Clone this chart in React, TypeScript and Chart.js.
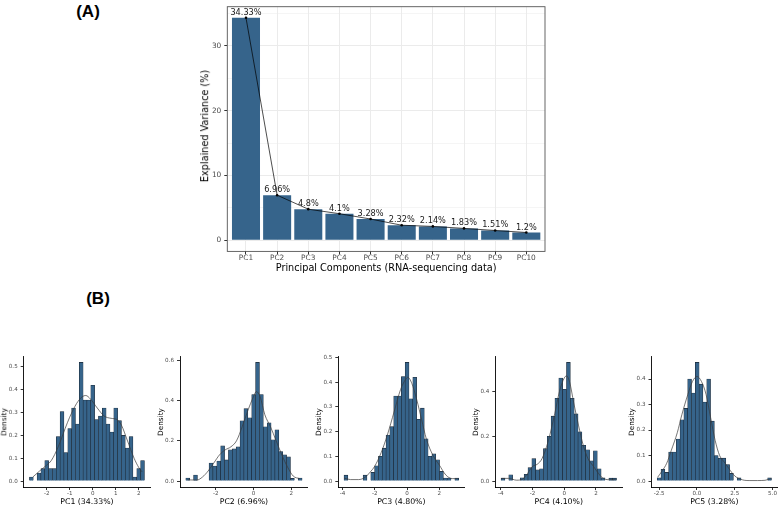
import React, { useEffect, useRef } from "react";
import { Chart, registerables } from "chart.js";

Chart.register(...registerables);

const FONT = "'DejaVu Sans', 'Noto Sans', sans-serif";
const LABEL_FONT = "'Liberation Sans', Arial, sans-serif";
const BAR_FILL = "#36648B";
const BAR_EDGE = "#1b2836";
const TICK_TEXT = "#4d4d4d";

// ---------------- Panel A data ----------------
const pcLabels = ["PC1", "PC2", "PC3", "PC4", "PC5", "PC6", "PC7", "PC8", "PC9", "PC10"];
const explainedVariance = [34.33, 6.96, 4.8, 4.1, 3.28, 2.32, 2.14, 1.83, 1.51, 1.2];
const varianceTicks = [0, 5, 10, 15, 20, 25, 30, 35];
const varianceTickLabels = ["0", "", "10", "", "20", "", "30", ""];

// ---------------- Panel B data ----------------
const pc1Bins = [-2.75, 2.25];
const pc1Density = [0.018, 0, 0.035, 0.055, 0.09, 0.055, 0.055, 0.195, 0.305, 0.125, 0.23, 0.32, 0.25, 0.52, 0.355, 0.355, 0.42, 0.27, 0.285, 0.32, 0.25, 0.215, 0.32, 0.265, 0.2, 0.145, 0.195, 0.018, 0.055, 0.09];
const pc1CurveX = [-2.6, -2.3, -2.0, -1.8, -1.5, -1.2, -1.0, -0.7, -0.45, -0.3, -0.1, 0.2, 0.5, 0.8, 1.05, 1.25, 1.5, 1.8, 2.0, 2.15];
const pc1CurveY = [0.018, 0.045, 0.07, 0.09, 0.15, 0.23, 0.28, 0.34, 0.37, 0.375, 0.36, 0.32, 0.285, 0.275, 0.27, 0.245, 0.18, 0.1, 0.06, 0.04];
const pc1XTicks = [-2, -1, 0, 1, 2];
const pc1XTickLabels = ["-2", "-1", "0", "1", "2"];
const pc1YTicks = [0, 0.1, 0.2, 0.3, 0.4, 0.5];
const pc1YTickLabels = ["0.0", "0.1", "0.2", "0.3", "0.4", "0.5"];

const pc2Bins = [-3.58, 2.57];
const pc2Density = [0.015, 0, 0.03, 0, 0, 0, 0.09, 0.075, 0.1, 0.175, 0.105, 0.155, 0.16, 0.17, 0.3, 0.36, 0.315, 0.43, 0.59, 0.43, 0.27, 0.29, 0.205, 0.255, 0.147, 0.13, 0.12, 0.013, 0, 0.015];
const pc2CurveX = [-3.5, -3.0, -2.7, -2.4, -2.1, -1.8, -1.5, -1.2, -0.9, -0.6, -0.3, 0.0, 0.15, 0.35, 0.6, 0.9, 1.2, 1.5, 1.8, 2.1, 2.45];
const pc2CurveY = [0.006, 0.005, 0.02, 0.05, 0.09, 0.13, 0.155, 0.17, 0.2, 0.27, 0.35, 0.42, 0.445, 0.42, 0.33, 0.27, 0.2, 0.13, 0.07, 0.025, 0.012];
const pc2XTicks = [-2, 0, 2];
const pc2XTickLabels = ["-2", "0", "2"];
const pc2YTicks = [0, 0.2, 0.4, 0.6];
const pc2YTickLabels = ["0.0", "0.2", "0.4", "0.6"];

const pc3Bins = [-3.9, 3.2];
const pc3Density = [0.024, 0, 0, 0, 0, 0.024, 0, 0.035, 0.062, 0.1, 0.133, 0.186, 0.22, 0.344, 0.344, 0.423, 0.48, 0.333, 0.42, 0.25, 0.295, 0.171, 0.1, 0.11, 0.086, 0.039, 0.012, 0.012, 0, 0.012];
const pc3CurveX = [-3.9, -3.5, -3.0, -2.6, -2.3, -2.0, -1.6, -1.2, -0.8, -0.4, -0.1, 0.05, 0.3, 0.6, 0.9, 1.2, 1.6, 2.0, 2.4, 2.8, 3.15];
const pc3CurveY = [0.012, 0.006, 0.006, 0.015, 0.035, 0.06, 0.115, 0.19, 0.28, 0.37, 0.41, 0.42, 0.395, 0.33, 0.25, 0.17, 0.105, 0.065, 0.025, 0.01, 0.01];
const pc3XTicks = [-4, -2, 0, 2];
const pc3XTickLabels = ["-4", "-2", "0", "2"];
const pc3YTicks = [0, 0.1, 0.2, 0.3, 0.4, 0.5];
const pc3YTickLabels = ["0.0", "0.1", "0.2", "0.3", "0.4", "0.5"];

const pc4Bins = [-3.98, 3.3];
const pc4Density = [0.013, 0, 0.028, 0, 0, 0.015, 0.03, 0.06, 0.1, 0.05, 0.055, 0.145, 0.2, 0.29, 0.37, 0.46, 0.41, 0.53, 0.37, 0.3, 0.22, 0.16, 0.14, 0.09, 0.135, 0.055, 0.015, 0, 0.013, 0.013];
const pc4CurveX = [-3.95, -3.5, -3.0, -2.6, -2.3, -2.0, -1.7, -1.4, -1.0, -0.6, -0.3, 0.0, 0.15, 0.35, 0.6, 0.9, 1.2, 1.5, 1.8, 2.1, 2.4, 2.8, 3.25];
const pc4CurveY = [0.012, 0.012, 0.004, 0.01, 0.035, 0.065, 0.075, 0.1, 0.18, 0.3, 0.4, 0.46, 0.47, 0.44, 0.35, 0.25, 0.16, 0.1, 0.07, 0.04, 0.015, 0.006, 0.006];
const pc4XTicks = [-4, -2, 0, 2];
const pc4XTickLabels = ["-4", "-2", "0", "2"];
const pc4YTicks = [0, 0.2, 0.4];
const pc4YTickLabels = ["0.0", "0.2", "0.4"];

const pc5Bins = [-2.63, 4.93];
const pc5Density = [0.013, 0.046, 0.034, 0.114, 0.114, 0.165, 0.24, 0.285, 0.4, 0.345, 0.465, 0.38, 0.31, 0.4, 0.235, 0.1, 0.09, 0.09, 0.065, 0.03, 0, 0.013, 0, 0, 0, 0, 0, 0, 0, 0.013];
const pc5CurveX = [-2.6, -2.3, -2.0, -1.7, -1.3, -1.0, -0.6, -0.3, 0.0, 0.3, 0.6, 0.9, 1.2, 1.5, 1.8, 2.1, 2.5, 3.0, 3.5, 4.0, 4.5, 4.9];
const pc5CurveY = [0.015, 0.04, 0.07, 0.12, 0.19, 0.26, 0.34, 0.39, 0.41, 0.39, 0.34, 0.25, 0.16, 0.1, 0.075, 0.05, 0.02, 0.005, 0.002, 0.002, 0.003, 0.01];
const pc5XTicks = [-2.5, 0, 2.5, 5];
const pc5XTickLabels = ["-2.5", "0.0", "2.5", "5.0"];
const pc5YTicks = [0, 0.1, 0.2, 0.3, 0.4];
const pc5YTickLabels = ["0.0", "0.1", "0.2", "0.3", "0.4"];

const histTitles = ["PC1 (34.33%)", "PC2 (6.96%)", "PC3 (4.80%)", "PC4 (4.10%)", "PC5 (3.28%)"];

const histograms = [
  { bins: pc1Bins, density: pc1Density, cx: pc1CurveX, cy: pc1CurveY, xt: pc1XTicks, xl: pc1XTickLabels, yt: pc1YTicks, yl: pc1YTickLabels },
  { bins: pc2Bins, density: pc2Density, cx: pc2CurveX, cy: pc2CurveY, xt: pc2XTicks, xl: pc2XTickLabels, yt: pc2YTicks, yl: pc2YTickLabels },
  { bins: pc3Bins, density: pc3Density, cx: pc3CurveX, cy: pc3CurveY, xt: pc3XTicks, xl: pc3XTickLabels, yt: pc3YTicks, yl: pc3YTickLabels },
  { bins: pc4Bins, density: pc4Density, cx: pc4CurveX, cy: pc4CurveY, xt: pc4XTicks, xl: pc4XTickLabels, yt: pc4YTicks, yl: pc4YTickLabels },
  { bins: pc5Bins, density: pc5Density, cx: pc5CurveX, cy: pc5CurveY, xt: pc5XTicks, xl: pc5XTickLabels, yt: pc5YTicks, yl: pc5YTickLabels },
];

// ---------------- Layout (page pixels) ----------------
const A_BOX = { left: 190, top: 0, width: 370, height: 270, plotLeft: 227.3, plotRight: 545, plotTop: 1.26, plotBottom: 251.4 };
const H_PLOTS = [
  { left: 23.7, right: 150.2 },
  { left: 180, right: 307.9 },
  { left: 338.3, right: 464.4 },
  { left: 495.3, right: 622.3 },
  { left: 651.5, right: 777.2 },
];
const H_TOP = 350;
const H_HEIGHT = 150;
const H_PLOT_TOP = 356.5;
const H_PLOT_BOTTOM = 487;
const H_YAXIS = 20;
const H_RIGHT_PAD = 8;

const framePlugin = {
  id: "frame",
  afterDraw(chart: any) {
    const { ctx, chartArea: a } = chart;
    ctx.save();
    ctx.strokeStyle = "#555555";
    ctx.lineWidth = 0.9;
    ctx.strokeRect(a.left, a.top, a.right - a.left, a.bottom - a.top);
    ctx.restore();
  },
};

const barLabelPlugin = {
  id: "barLabels",
  afterDatasetsDraw(chart: any) {
    const meta = chart.getDatasetMeta(0);
    const ctx = chart.ctx;
    ctx.save();
    ctx.font = `8.2px ${FONT}`;
    ctx.fillStyle = "#1a1a1a";
    ctx.textAlign = "center";
    ctx.textBaseline = "alphabetic";
    meta.data.forEach((el: any, i: number) => {
      const { x, y } = el.getProps(["x", "y"], true);
      ctx.fillText(`${explainedVariance[i]}%`, x, y - 3);
    });
    ctx.restore();
  },
};

function VarianceChart() {
  const ref = useRef<HTMLCanvasElement>(null);
  useEffect(() => {
    const cvs = ref.current;
    if (!cvs) return;
    const vMax = Math.max(...explainedVariance);
    const b = A_BOX;
    const chart = new Chart(cvs, {
      type: "bar",
      data: {
        datasets: [
          {
            type: "bar",
            data: explainedVariance.map((v, i) => ({ x: i + 1, y: v })),
            backgroundColor: BAR_FILL,
            borderWidth: 0,
            barPercentage: 0.9,
            categoryPercentage: 1,
            order: 1,
          } as any,
          {
            type: "line",
            data: explainedVariance.map((v, i) => ({ x: i + 1, y: v })),
            borderColor: "#000000",
            borderWidth: 0.7,
            pointRadius: 1.3,
            pointBackgroundColor: "#000000",
            pointBorderWidth: 0,
            tension: 0,
            order: 0,
          } as any,
        ],
      },
      options: {
        responsive: false,
        animation: false,
        devicePixelRatio: 1,
        layout: { padding: { left: 0, top: b.plotTop - b.top, right: b.left + b.width - b.plotRight, bottom: 0 } },
        plugins: { legend: { display: false }, tooltip: { enabled: false } },
        scales: {
          x: {
            type: "linear",
            min: 0.4,
            max: pcLabels.length + 0.6,
            offset: false,
            afterBuildTicks: (s: any) => {
              s.ticks = pcLabels.map((_, i) => ({ value: i + 1 }));
            },
            afterFit: (s: any) => {
              s.height = b.top + b.height - b.plotBottom;
            },
            ticks: {
              autoSkip: false,
              maxRotation: 0,
              minRotation: 0,
              padding: 0,
              color: TICK_TEXT,
              font: { family: FONT, size: 7.4, lineHeight: 1 },
              callback: (v: any) => pcLabels[Math.round(Number(v)) - 1] ?? "",
            },
            grid: { offset: false, color: "#ebebeb", lineWidth: 1, tickLength: 3, tickColor: "#333333", drawTicks: true },
            border: { display: false },
          } as any,
          y: {
            type: "linear",
            min: -vMax * 0.05,
            max: vMax * 1.05,
            afterBuildTicks: (s: any) => {
              s.ticks = varianceTicks.map((v) => ({ value: v }));
            },
            afterFit: (s: any) => {
              s.width = b.plotLeft - b.left;
            },
            ticks: {
              autoSkip: false,
              padding: 3,
              color: TICK_TEXT,
              font: { family: FONT, size: 7.4, lineHeight: 1 },
              callback: (v: any) => {
                const i = varianceTicks.indexOf(Number(v));
                return i >= 0 ? varianceTickLabels[i] : "";
              },
            },
            grid: {
              color: "#ebebeb",
              lineWidth: (c: any) => (varianceTickLabels[varianceTicks.indexOf(c.tick?.value)] ? 1 : 0.5),
              tickLength: 3,
              tickColor: (c: any) => (varianceTickLabels[varianceTicks.indexOf(c.tick?.value)] ? "#333333" : "rgba(0,0,0,0)"),
            },
            border: { display: false },
          } as any,
        },
      },
      plugins: [framePlugin, barLabelPlugin],
    });
    return () => chart.destroy();
  }, []);
  return (
    <canvas
      ref={ref}
      width={A_BOX.width}
      height={A_BOX.height}
      style={{ position: "absolute", left: A_BOX.left, top: A_BOX.top, width: A_BOX.width, height: A_BOX.height }}
    />
  );
}

function Histogram({ index }: { index: number }) {
  const ref = useRef<HTMLCanvasElement>(null);
  const h = histograms[index];
  const p = H_PLOTS[index];
  const canvasLeft = Math.floor(p.left - H_YAXIS);
  const canvasWidth = Math.ceil(p.right + H_RIGHT_PAD - canvasLeft);
  useEffect(() => {
    const cvs = ref.current;
    if (!cvs) return;
    const n = h.density.length;
    const w = (h.bins[1] - h.bins[0]) / n;
    const span = h.bins[1] - h.bins[0];
    const dMax = Math.max(...h.density);
    const chart = new Chart(cvs, {
      type: "bar",
      data: {
        datasets: [
          {
            type: "bar",
            data: h.density.map((d, i) => ({ x: h.bins[0] + (i + 0.5) * w, y: d > 0 ? d : null })),
            backgroundColor: BAR_FILL,
            borderColor: BAR_EDGE,
            borderWidth: 0.6,
            barPercentage: 1,
            categoryPercentage: 1,
            order: 1,
          } as any,
          {
            type: "line",
            data: h.cx.map((x, i) => ({ x, y: h.cy[i] })),
            borderColor: "#3a3a3a",
            borderWidth: 0.7,
            pointRadius: 0,
            tension: 0.4,
            cubicInterpolationMode: "monotone",
            order: 0,
          } as any,
        ],
      },
      options: {
        responsive: false,
        animation: false,
        devicePixelRatio: 1,
        layout: {
          padding: { left: 0, top: H_PLOT_TOP - H_TOP, right: canvasLeft + canvasWidth - p.right, bottom: 0 },
        },
        plugins: { legend: { display: false }, tooltip: { enabled: false } },
        scales: {
          x: {
            type: "linear",
            min: h.bins[0] - span * 0.05,
            max: h.bins[1] + span * 0.05,
            offset: false,
            afterBuildTicks: (s: any) => {
              s.ticks = h.xt.map((v) => ({ value: v }));
            },
            afterFit: (s: any) => {
              s.height = H_TOP + H_HEIGHT - H_PLOT_BOTTOM;
            },
            ticks: {
              autoSkip: false,
              maxRotation: 0,
              minRotation: 0,
              padding: 0.5,
              color: TICK_TEXT,
              font: { family: FONT, size: 5.6, lineHeight: 1 },
              callback: (v: any) => {
                const i = h.xt.indexOf(Number(v));
                return i >= 0 ? h.xl[i] : "";
              },
            },
            grid: { offset: false, drawOnChartArea: false, drawTicks: true, tickLength: 3, tickColor: "#000000", tickWidth: 0.8 },
            border: { display: true, color: "#000000", width: 0.9 },
          } as any,
          y: {
            type: "linear",
            min: -dMax * 0.05,
            max: dMax * 1.05,
            afterBuildTicks: (s: any) => {
              s.ticks = h.yt.map((v) => ({ value: v }));
            },
            afterFit: (s: any) => {
              s.width = p.left - canvasLeft;
            },
            ticks: {
              autoSkip: false,
              padding: 3,
              color: TICK_TEXT,
              font: { family: FONT, size: 5.6, lineHeight: 1 },
              callback: (v: any) => {
                const i = h.yt.indexOf(Number(v));
                return i >= 0 ? h.yl[i] : "";
              },
            },
            grid: { drawOnChartArea: false, drawTicks: true, tickLength: 3, tickColor: "#000000", tickWidth: 0.8 },
            border: { display: true, color: "#000000", width: 0.9 },
          } as any,
        },
      },
    });
    return () => chart.destroy();
  }, [index]);
  return (
    <canvas
      ref={ref}
      width={canvasWidth}
      height={H_HEIGHT}
      style={{ position: "absolute", left: canvasLeft, top: H_TOP, width: canvasWidth, height: H_HEIGHT }}
    />
  );
}

function Text({ x, y, text, size, bold, rotate, family }: { x: number; y: number; text: string; size: number; bold?: boolean; rotate?: boolean; family?: string }) {
  return (
    <div
      style={{
        position: "absolute",
        left: x,
        top: y,
        transform: `translate(-50%, -50%)${rotate ? " rotate(-90deg)" : ""}`,
        fontFamily: family ?? FONT,
        fontSize: size,
        fontWeight: bold ? 700 : 400,
        lineHeight: 1,
        whiteSpace: "nowrap",
        color: "#000000",
      }}
    >
      {text}
    </div>
  );
}

export default function App() {
  const aMidY = (A_BOX.plotTop + A_BOX.plotBottom) / 2;
  const aMidX = (A_BOX.plotLeft + A_BOX.plotRight) / 2;
  const hMidY = (H_PLOT_TOP + H_PLOT_BOTTOM) / 2;
  return (
    <div style={{ position: "absolute", left: 0, top: 0, width: 780, height: 506, overflow: "hidden", background: "#ffffff" }}>
      <Text x={88} y={11} text="(A)" size={17} bold family={LABEL_FONT} />
      <Text x={98} y={298} text="(B)" size={17} bold family={LABEL_FONT} />
      <VarianceChart />
      <Text x={205} y={aMidY} text="Explained Variance (%)" size={9.7} rotate />
      <Text x={aMidX} y={268} text="Principal Components (RNA-sequencing data)" size={9.7} />
      {histograms.map((_, i) => (
        <Histogram key={i} index={i} />
      ))}
      {H_PLOTS.map((p, i) => (
        <React.Fragment key={"t" + i}>
          <Text x={p.left - 19.5} y={hMidY} text="Density" size={7.3} rotate />
          <Text x={(p.left + p.right) / 2} y={502} text={histTitles[i]} size={7.8} />
        </React.Fragment>
      ))}
    </div>
  );
}
